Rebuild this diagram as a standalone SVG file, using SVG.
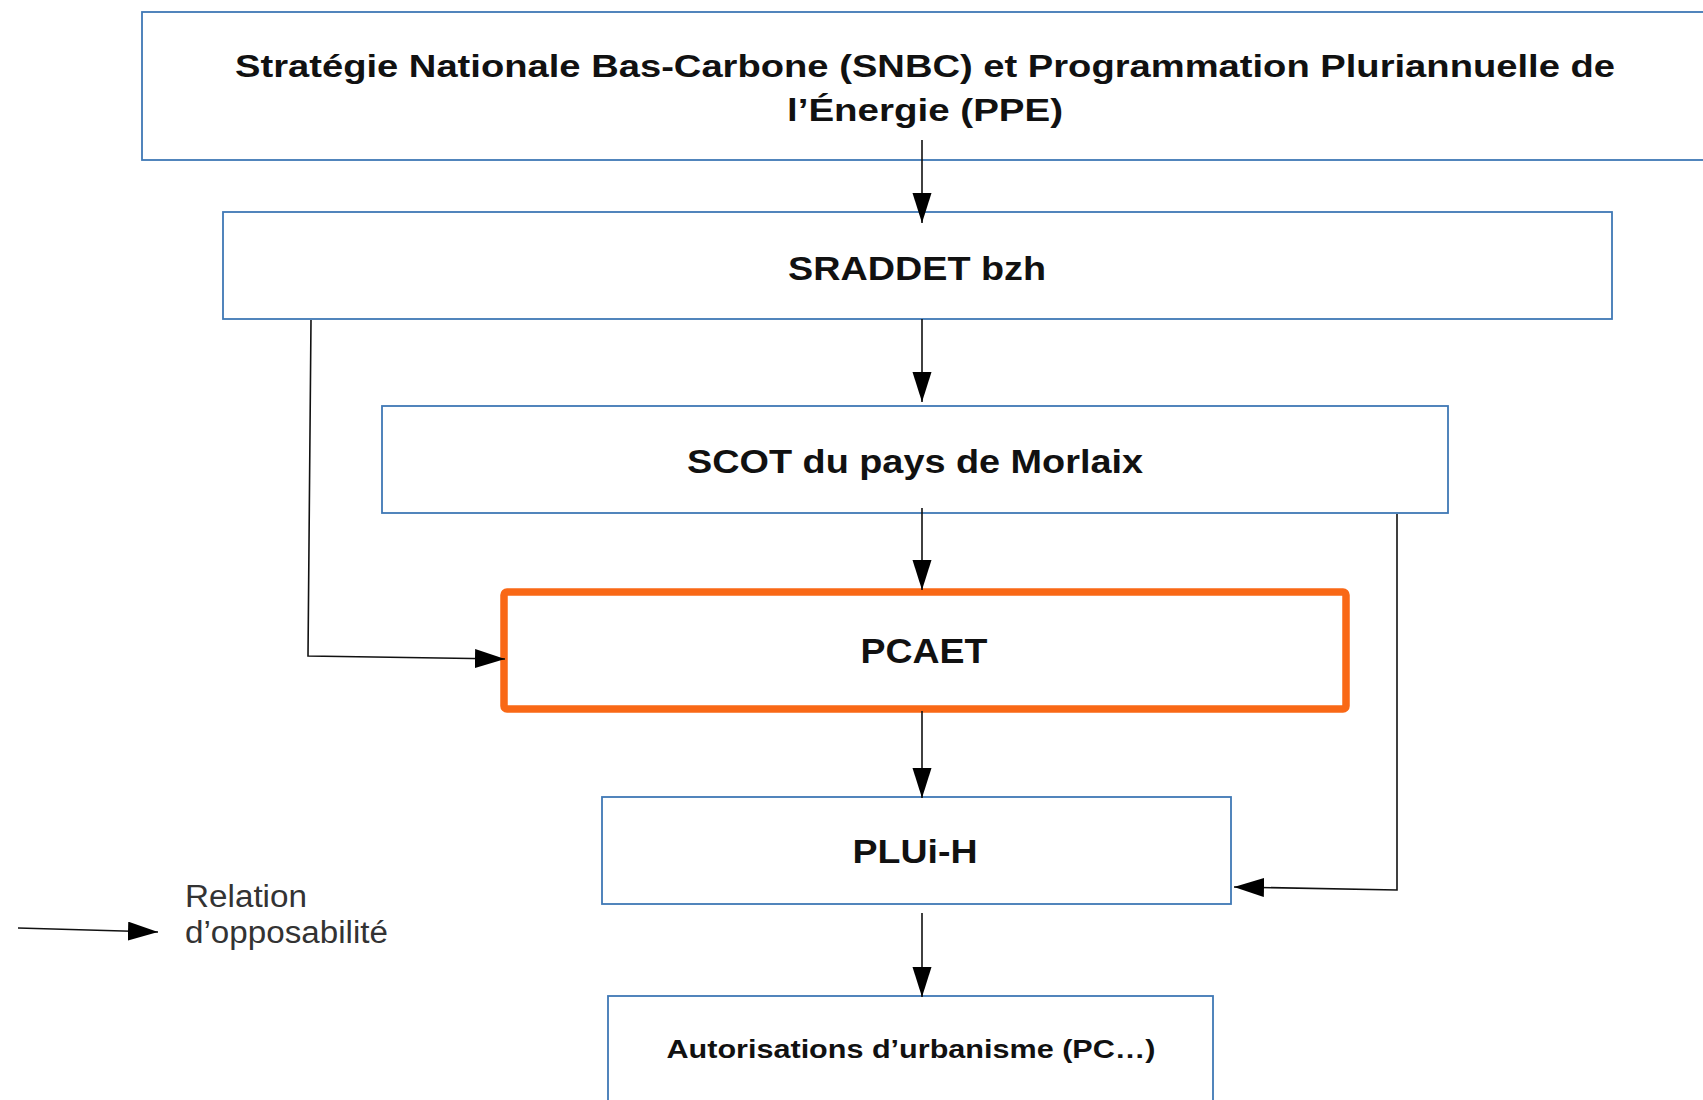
<svg xmlns="http://www.w3.org/2000/svg" width="1703" height="1100" viewBox="0 0 1703 1100">
<style>
.box{fill:#ffffff;stroke:#3f78b5;stroke-width:1.8}
.hl{fill:#ffffff;stroke:#f96816;stroke-width:7.5}
.t{font-family:"Liberation Sans",Arial,sans-serif;font-weight:bold;fill:#111111;text-anchor:middle}
.leg{font-family:"Liberation Sans",Arial,sans-serif;fill:#333333;font-size:31px}
.c{fill:none;stroke:#111111;stroke-width:1.6}
</style>
<defs>
<marker id="ah" markerUnits="userSpaceOnUse" markerWidth="32" markerHeight="20" refX="30" refY="9.5" orient="auto">
<path d="M0,0 L30,9.5 L0,19 z" fill="#000000"/>
</marker>
</defs>
<rect width="1703" height="1100" fill="#ffffff"/>
<g id="node-snbc">
<rect class="box" x="142" y="12" width="1580" height="148"/>
<text class="t" x="925" y="77" font-size="31" textLength="1380" lengthAdjust="spacingAndGlyphs">Stratégie Nationale Bas-Carbone (SNBC) et Programmation Pluriannuelle de</text>
<text class="t" x="925" y="121" font-size="31" textLength="276" lengthAdjust="spacingAndGlyphs">l’Énergie (PPE)</text>
</g>
<g id="node-sraddet">
<rect class="box" x="223" y="212" width="1389" height="107"/>
<text class="t" x="917" y="280" font-size="34" textLength="258" lengthAdjust="spacingAndGlyphs">SRADDET bzh</text>
</g>
<g id="node-scot">
<rect class="box" x="382" y="406" width="1066" height="107"/>
<text class="t" x="915" y="473" font-size="34" textLength="456" lengthAdjust="spacingAndGlyphs">SCOT du pays de Morlaix</text>
</g>
<g id="node-pcaet">
<rect class="hl" x="504" y="592" width="842" height="117" rx="3"/>
<text class="t" x="924" y="663" font-size="35" textLength="127" lengthAdjust="spacingAndGlyphs">PCAET</text>
</g>
<g id="node-pluih">
<rect class="box" x="602" y="797" width="629" height="107"/>
<text class="t" x="915" y="863" font-size="34" textLength="125" lengthAdjust="spacingAndGlyphs">PLUi-H</text>
</g>
<g id="node-autorisations">
<rect class="box" x="608" y="996" width="605" height="120"/>
<text class="t" x="911" y="1058" font-size="26" textLength="489" lengthAdjust="spacingAndGlyphs">Autorisations d’urbanisme (PC…)</text>
</g>
<g id="connectors">
<path class="c" d="M922,140 L922,223" marker-end="url(#ah)"/>
<path class="c" d="M922,319 L922,402" marker-end="url(#ah)"/>
<path class="c" d="M922,508 L922,590" marker-end="url(#ah)"/>
<path class="c" d="M922,711 L922,798" marker-end="url(#ah)"/>
<path class="c" d="M922,913 L922,997" marker-end="url(#ah)"/>
<path class="c" stroke="#333333" d="M311,320 L308,656 L505,659" marker-end="url(#ah)"/>
<path class="c" stroke="#333333" d="M1397,514 L1397,890 L1234,887" marker-end="url(#ah)"/>
</g>
<g id="legend">
<path class="c" d="M18,928 L158,932" marker-end="url(#ah)"/>
<text class="leg" x="185" y="907" textLength="122" lengthAdjust="spacingAndGlyphs">Relation</text>
<text class="leg" x="185" y="943" textLength="203" lengthAdjust="spacingAndGlyphs">d’opposabilité</text>
</g>
</svg>
